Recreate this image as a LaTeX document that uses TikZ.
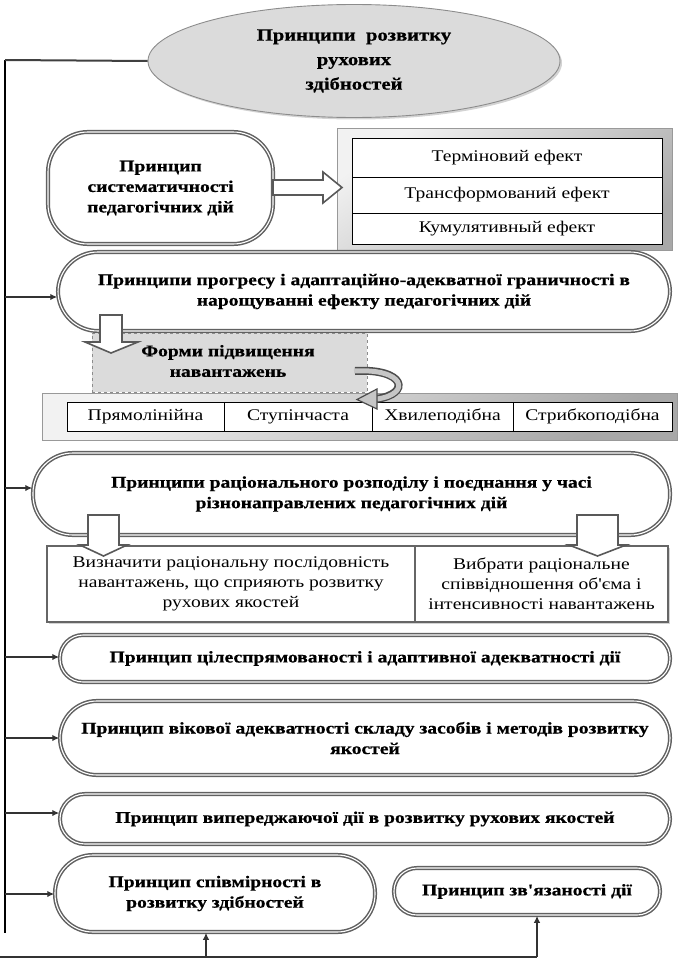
\documentclass[tikz,border=0pt]{standalone}
\usepackage{fontspec}
\setmainfont{Liberation Serif}[FakeStretch=1.2, Ligatures=TeXOff, BoldFeatures={FakeBold=0.6}]
\usetikzlibrary{arrows.meta,shadows,calc,shapes.geometric}
\tikzset{
  txt/.style={inner sep=0pt, align=center, font=\fontsize{16.3}{20.5}\selectfont\bfseries},
  pbox/.style={txt, draw=black!62, line width=1.5pt, double=white, double distance=1.1pt,
     fill=white, rounded corners=#1, drop shadow={shadow xshift=1.2pt, shadow yshift=-1.2pt, opacity=0.4}},
  panel/.style={inner sep=0pt, draw=black!40, line width=0.6pt, top color=gray!10, bottom color=gray!68, shading angle=35},
  cell/.style={inner sep=0pt, align=center, draw=black, line width=0.9pt, fill=white,
     font=\fontsize{16.3}{20}\selectfont},
  barrow/.style={draw=black!65, line width=1.6pt, fill=white, line join=miter},
  link/.style={draw=black!80, line width=1.8pt, -{Latex[length=7pt,width=6.5pt]}},
  trunk/.style={draw=black, line width=2.8pt},
}
\begin{document}
\begin{tikzpicture}[x=1pt,y=-1pt]
\useasboundingbox (0,0) rectangle (681,966);
% title ellipse
\node[ellipse, draw=black!45, line width=0.9pt, fill=gray!28, minimum width=412pt, minimum height=113pt,
  drop shadow={shadow xshift=2pt, shadow yshift=-2pt, opacity=0.35}, txt,
  font=\fontsize{17.2}{24.5}\selectfont\bfseries] (title) at (354,61)
  {Принципи\ \ розвитку\\рухових\\здібностей};
% trunk
\coordinate (tTop) at (5,60);
\coordinate (tBot) at (5,933);
\draw[trunk] (tTop) -- (tBot);
\draw[draw=black!75, line width=2pt] (tTop) -- (title.west);

% box 1 + panel 1
\node[pbox=40pt, minimum width=225pt, minimum height=112pt] (b1) at (160.5,188)
  {Принцип\\систематичності\\педагогічних дій};
\node[panel, minimum width=335pt, minimum height=122pt] (p1) at (504.5,189) {};
\node[cell, minimum width=310pt, minimum height=39pt] (c11) at (507,157.5) {Терміновий ефект};
\node[cell, minimum width=310pt, minimum height=36pt] (c12) at (507,195) {Трансформований ефект};
\node[cell, minimum width=310pt, minimum height=31pt] (c13) at (507,228.5) {Кумулятивный ефект};
\draw[barrow] (273,180) -- (323,180) -- (323,172) -- (342,187.5) -- (323,203) -- (323,195) -- (273,195) -- cycle;

% box 2
\node[pbox=40pt, minimum width=612pt, minimum height=79pt] (b2) at (364,291.5)
  {Принципи прогресу і адаптаційно-адекватної граничності в\\нарощуванні ефекту педагогічних дій};
\coordinate (t2) at (5,297);
\draw[link] (t2) -- (t2 -| b2.west);

% forms box
\node[txt, draw=black!45, dashed, line width=0.6pt, fill=gray!28, minimum width=275pt, minimum height=59pt] (forms) at (229.5,362.5) {};
\node[txt] (formsT) at (228,361) {Форми підвищення\\навантажень};
\draw[barrow] (100,315) -- (122,315) -- (122,342) -- (138,342) -- (111,353) -- (85,342) -- (100,342) -- cycle;

% panel 2
\node[panel, minimum width=635pt, minimum height=47pt] (p2) at (359.5,416.5) {};
\node[cell, minimum width=157pt, minimum height=29pt] (c21) at (145.5,416.5) {Прямолінійна};
\node[cell, minimum width=148pt, minimum height=29pt] (c22) at (298,416.5) {Ступінчаста};
\node[cell, minimum width=141pt, minimum height=29pt] (c23) at (442.5,416.5) {Хвилеподібна};
\node[cell, minimum width=159pt, minimum height=29pt] (c24) at (592.5,416.5) {Стрибкоподібна};

% curved arrow
\draw[draw=black!70, line width=8pt] (355,371) .. controls (405,368) and (412,394) .. (376,399);
\draw[draw=gray!45, line width=5pt] (354,371) .. controls (405,368) and (412,394) .. (377,399);
\draw[draw=black!70, line width=1.2pt, fill=gray!45, line join=miter] (377,389) -- (377,409) -- (357,399.5) -- cycle;

% box 3
\node[pbox=40pt, minimum width=637pt, minimum height=82pt] (b3) at (351.5,494)
  {Принципи раціонального розподілу і поєднання у часі\\різнонаправлених педагогічних дій};
\coordinate (t3) at (5,488);
\draw[link] (t3) -- (t3 -| b3.west);

% two-cell box
\node[cell, minimum width=368pt, minimum height=76pt, draw=black!60, line width=1.6pt,
  drop shadow={shadow xshift=1.5pt, shadow yshift=-1.5pt, opacity=0.35}] (d1) at (231,584)
  {Визначити раціональну послідовність\\навантажень, що сприяють розвитку\\рухових якостей};
\node[cell, minimum width=253pt, minimum height=76pt, draw=black!60, line width=1.6pt,
  drop shadow={shadow xshift=1.5pt, shadow yshift=-1.5pt, opacity=0.35}] (d2) at (541.5,584)
  {Вибрати раціональне\\співвідношення об'єма і\\інтенсивності навантажень};
\draw[barrow] (88,515) -- (119,515) -- (119,545) -- (127,545) -- (103.5,556) -- (80,545) -- (88,545) -- cycle;
\draw[barrow] (577,515) -- (618,515) -- (618,545) -- (626,545) -- (597.5,556) -- (569,545) -- (577,545) -- cycle;

% box 4
\node[pbox=23pt, minimum width=610pt, minimum height=47pt] (b4) at (365,658.5)
  {Принцип цілеспрямованості і адаптивної адекватності дії};
\coordinate (t4) at (5,657);
\draw[link] (t4) -- (t4 -| b4.west);

% box 5
\node[pbox=37pt, minimum width=610pt, minimum height=74pt] (b5) at (365,738)
  {Принцип вікової адекватності складу засобів і методів розвитку\\якостей};
\coordinate (t5) at (5,738);
\draw[link] (t5) -- (t5 -| b5.west);

% box 6
\node[pbox=25pt, minimum width=610pt, minimum height=50pt] (b6) at (365,819)
  {Принцип випереджаючої дії в розвитку рухових якостей};
\coordinate (t6) at (5,813);
\draw[link] (t6) -- (t6 -| b6.west);

% box 7, 8
\node[pbox=38pt, minimum width=320pt, minimum height=77pt] (b7) at (215,893.5)
  {Принцип співмірності в\\розвитку здібностей};
\coordinate (t7) at (5,894);
\draw[link] (t7) -- (t7 -| b7.west);
\node[pbox=23pt, minimum width=266pt, minimum height=47pt] (b8) at (527,891.5)
  {Принцип зв'язаності дії};

% bottom line
\coordinate (bl) at (0,957);
\coordinate (br) at (537,957);
\coordinate (bm) at (206,957);
\draw[draw=black!80, line width=2.4pt] (bl) -- (br);
\draw[link] (bm) -- (bm |- b7.south);
\draw[link] (br) -- (br |- b8.south);
\end{tikzpicture}
\end{document}
